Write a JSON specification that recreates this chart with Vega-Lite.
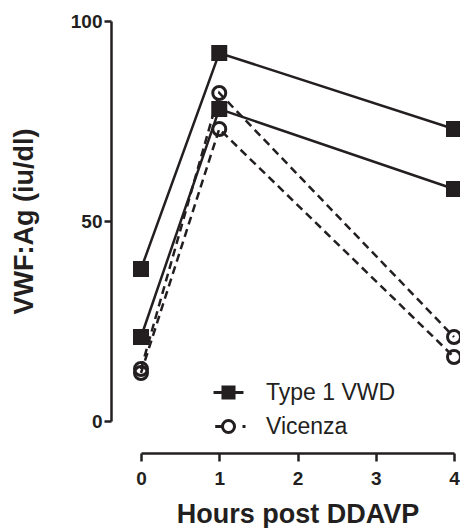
{
  "$schema": "https://vega.github.io/schema/vega-lite/v6.json",
  "autosize": {"type": "none"},
  "padding": {"left": 141, "top": 21, "right": 6, "bottom": 107},
  "width": 313,
  "height": 400,
  "background": "white",
  "config": {
    "view": {"stroke": null},
    "font": "Liberation Sans",
    "axis": {
      "domainColor": "#231f20", "domainWidth": 2.5, "tickColor": "#231f20", "tickWidth": 2.5,
      "labelFont": "Liberation Sans", "labelFontWeight": "bold", "labelFontSize": 19, "labelColor": "#231f20",
      "titleFont": "Liberation Sans", "titleFontWeight": "bold", "titleFontSize": 27, "titleColor": "#231f20",
      "grid": false
    }
  },
  "data": {
    "values": [
      {"subject": "T1a", "group": "Type 1 VWD", "hours": 0, "value": 38},
      {"subject": "T1a", "group": "Type 1 VWD", "hours": 1, "value": 92},
      {"subject": "T1a", "group": "Type 1 VWD", "hours": 4, "value": 73},
      {"subject": "T1b", "group": "Type 1 VWD", "hours": 0, "value": 21},
      {"subject": "T1b", "group": "Type 1 VWD", "hours": 1, "value": 78},
      {"subject": "T1b", "group": "Type 1 VWD", "hours": 4, "value": 58},
      {"subject": "Va", "group": "Vicenza", "hours": 0, "value": 13},
      {"subject": "Va", "group": "Vicenza", "hours": 1, "value": 82},
      {"subject": "Va", "group": "Vicenza", "hours": 4, "value": 21},
      {"subject": "Vb", "group": "Vicenza", "hours": 0, "value": 12},
      {"subject": "Vb", "group": "Vicenza", "hours": 1, "value": 73},
      {"subject": "Vb", "group": "Vicenza", "hours": 4, "value": 16}
    ]
  },
  "encoding": {
    "x": {
      "field": "hours", "type": "quantitative", "title": "Hours post DDAVP",
      "scale": {"domain": [0, 4], "nice": false, "zero": false},
      "axis": {"values": [0, 1, 2, 3, 4], "offset": 32, "tickSize": 8, "labelPadding": 8, "titlePadding": 13, "labelFlush": false, "labelOverlap": false}
    },
    "y": {
      "field": "value", "type": "quantitative", "title": "VWF:Ag (iu/dl)",
      "scale": {"domain": [0, 100], "nice": false},
      "axis": {"values": [0, 50, 100], "offset": 30, "tickSize": 7, "labelPadding": 2, "titlePadding": 32}
    }
  },
  "layer": [
    {
      "mark": {"type": "point", "size": 0, "stroke": "#231f20", "strokeWidth": 3, "opacity": 1, "clip": false},
      "encoding": {
        "shape": {
          "field": "group", "type": "nominal", "title": null,
          "scale": {"domain": ["Type 1 VWD", "Vicenza"], "range": ["M-2.14,0H2.14 M-0.79,-0.79H0.79V0.79H-0.79Z", "M-1.9,0H-0.86 M2.0,0H2.43 M-0.86,0A0.86,0.86 0 1,1 0.86,0A0.86,0.86 0 1,1 -0.86,0"]},
          "legend": {
            "orient": "none", "legendX": 76, "legendY": 360, "padding": 0,
            "labelFont": "Liberation Sans", "labelFontSize": 23, "labelColor": "#231f20",
            "labelOffset": 26, "symbolSize": 196, "rowPadding": 9, "labelLimit": 300,
            "symbolStrokeWidth": 3, "symbolStrokeColor": "#231f20", "symbolOpacity": 1
          }
        },
        "fill": {
          "field": "group", "type": "nominal", "title": null,
          "scale": {"domain": ["Type 1 VWD", "Vicenza"], "range": ["#231f20", "transparent"]},
          "legend": {
            "orient": "none", "legendX": 76, "legendY": 360, "padding": 0,
            "labelFont": "Liberation Sans", "labelFontSize": 23, "labelColor": "#231f20",
            "labelOffset": 26, "symbolSize": 196, "rowPadding": 9, "labelLimit": 300,
            "symbolStrokeWidth": 3, "symbolStrokeColor": "#231f20", "symbolOpacity": 1
          }
        },
        "stroke": {
          "field": "group", "type": "nominal", "title": null,
          "scale": {"domain": ["Type 1 VWD", "Vicenza"], "range": ["#231f20", "#231f20"]},
          "legend": {
            "orient": "none", "legendX": 76, "legendY": 360, "padding": 0,
            "labelFont": "Liberation Sans", "labelFontSize": 23, "labelColor": "#231f20",
            "labelOffset": 26, "symbolSize": 196, "rowPadding": 9, "labelLimit": 300,
            "symbolStrokeWidth": 3, "symbolOpacity": 1
          }
        }
      }
    },
    {
      "transform": [{"filter": "datum.group === 'Type 1 VWD'"}],
      "mark": {"type": "line", "color": "#231f20", "strokeWidth": 2.5, "clip": false},
      "encoding": {"detail": {"field": "subject"}, "order": {"field": "hours"}}
    },
    {
      "transform": [{"filter": "datum.group === 'Vicenza'"}],
      "mark": {"type": "line", "color": "#231f20", "strokeWidth": 2.5, "strokeDash": [8, 5], "clip": false},
      "encoding": {"detail": {"field": "subject"}, "order": {"field": "hours"}}
    },
    {
      "transform": [{"filter": "datum.group === 'Type 1 VWD'"}],
      "mark": {"type": "point", "shape": "square", "filled": true, "size": 256, "color": "#231f20", "opacity": 1, "clip": false}
    },
    {
      "transform": [{"filter": "datum.group === 'Vicenza'"}],
      "mark": {"type": "point", "shape": "circle", "filled": false, "size": 169, "color": "#231f20", "strokeWidth": 3, "opacity": 1, "clip": false}
    }
  ]
}
